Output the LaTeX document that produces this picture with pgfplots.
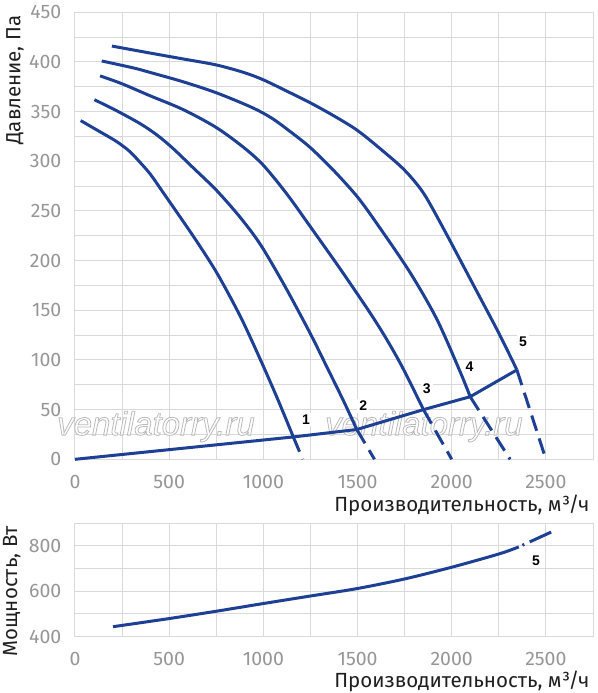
\documentclass[border=0pt]{standalone}
\usepackage{fontspec}
\setmainfont{Fira Sans}
\newfontfamily\arialfont{Liberation Sans}
\usepackage{pgfplots}
\pgfplotsset{compat=1.18}

\definecolor{cblue}{RGB}{29,63,148}
\definecolor{gridc}{RGB}{217,217,217}
\definecolor{tickc}{RGB}{150,150,150}

\tikzset{
  num/.style={font=\arialfont\bfseries\fontsize{14}{14}\selectfont, fill=white, inner sep=2pt, text=black},
  wm/.style={font=\arialfont\itshape\fontsize{33}{33}\selectfont, anchor=base west, inner sep=0pt, text=white},
}
% outlined watermark text: white fill, grey stroke
\newcommand\wmtext{\special{pdf:literal direct 0.73 G 0.8 w 2 Tr}ventilatorry.ru\special{pdf:literal direct 0 Tr}}
\pgfplotsset{
  mystyle/.style={
    scale only axis, width=518pt,
    xmin=0, xmax=2750,
    xtick={0,500,...,2500},
    minor x tick num=1,
    grid=both,
    major grid style={gridc, line width=1pt},
    minor grid style={gridc, line width=1pt},
    axis line style={gridc, line width=1pt},
    major tick length=0pt, minor tick length=0pt,
    tick style={draw=none},
    tick label style={font=\fontsize{19.5}{21}\selectfont, text=tickc, inner sep=0pt},
    xticklabel style={anchor=center, yshift=-22.4pt},
    yticklabel style={anchor=east, xshift=-13.5pt},
    /pgf/number format/assume math mode=true,
    /pgf/number format/set thousands separator={},
    label style={font=\fontsize{20.5}{22}\selectfont, text=black!88},
    clip=false,
  },
  sol/.style={cblue, line width=3pt, smooth},
  dsh/.style={cblue, line width=3pt, dash pattern=on 16pt off 8pt},
}

\begin{document}
\begin{tikzpicture}
\path[use as bounding box] (-75pt,-233.7pt) rectangle (522pt,459.3pt);

% top axis: frame, grid, ticks and labels
\begin{axis}[mystyle, height=447pt, at={(0,0)}, anchor=south west,
  ymin=0, ymax=450, ytick={0,50,...,450}, minor y tick num=1,
  xlabel={Производительность, м³/ч}, ylabel={Давление, Па},
  xlabel style={at={(axis description cs:1,-0.1172)}, anchor=base east},
  ylabel style={at={(axis description cs:-0.1158,1)}, anchor=east},
]
\addplot[draw=none] coordinates {(0,0)(2750,450)};
\end{axis}

% watermark (between grid and curves)
\node[wm] at (-18pt,24.2pt) {\wmtext};
\node[wm] at (250pt,24.2pt) {\wmtext};

% top axis: curves
\begin{axis}[mystyle, height=447pt, at={(0,0)}, anchor=south west,
  ymin=0, ymax=450, hide axis]
% curve 1
\addplot[sol] coordinates {(30,341)(130,330)(220,320)(290,310)(345,299)(400,287)(470,268)(630,224)(755,187)(880,143)(985,100)(1075,61)(1159,22.5)};
\addplot[dsh] coordinates {(1159,22.5)(1209,0)};
% curve 2
\addplot[sol] coordinates {(103,362)(220,351)(345,338)(435,326.5)(520,313)(630,293)(750,271)(875,244)(985,216)(1115,174)(1248,127)(1337,93)(1425,59)(1496,30)};
\addplot[dsh] coordinates {(1496,30)(1590,0)};
% curve 3
\addplot[sol] coordinates {(133,386)(250,378)(398,366)(575,352)(750,334)(895,314)(1000,296)(1125,267)(1250,234)(1425,187)(1602,137)(1726,97)(1850,50)};
\addplot[dsh] coordinates {(1850,50)(2000,0)};
% curve 4
\addplot[sol] coordinates {(142,401)(310,394)(398,389.5)(575,380)(750,369)(930,355)(1040,344)(1142,330)(1248,314)(1372,291)(1500,264)(1611,235)(1779,188)(1921,141)(2045,88)(2098,63)};
\addplot[dsh] coordinates {(2098,63)(2310,0)};
% curve 5
\addplot[sol] coordinates {(196,416)(398,409)(575,403)(750,397)(895,389.5)(1000,382)(1142,369)(1248,359)(1372,346)(1500,331)(1637,310)(1750,291)(1850,268)(1957,232)(2108,178)(2250,127)(2346,90)};
\addplot[dsh] coordinates {(2346,90)(2500,0)};
% system line
\addplot[cblue, line width=3pt] coordinates {(0,0)(1159,22.5)(1496,30)(1850,50)(2098,63)(2346,90)};
\node[num] at (axis cs:1227,40) {1};
\node[num] at (axis cs:1531,54) {2};
\node[num] at (axis cs:1868,71) {3};
\node[num] at (axis cs:2094,93) {4};
\node[num] at (axis cs:2378,118) {5};
\end{axis}

% bottom axis
\begin{axis}[mystyle, height=113.7pt, at={(0,-63.7pt)}, anchor=north west,
  ymin=400, ymax=900, ytick={400,600,800}, minor y tick num=1,
  xlabel={Производительность, м³/ч}, ylabel={Мощность, Вт},
  xlabel style={at={(axis description cs:1,-0.451)}, anchor=base east},
  ylabel style={at={(axis description cs:-0.122,1)}, anchor=east},
]
\addplot[sol] coordinates {(202,444)(502,480)(750,512)(1001,546)(1250,579)(1500,612)(1750,654)(2002,706)(2255,765)(2356,795)};
\addplot[cblue, line width=3pt, dash pattern=on 0pt off 4pt on 2pt off 6pt on 40pt] coordinates {(2356,795)(2528,860)};
\node[num] at (axis cs:2447,735) {5};
\end{axis}
\end{tikzpicture}
\end{document}
